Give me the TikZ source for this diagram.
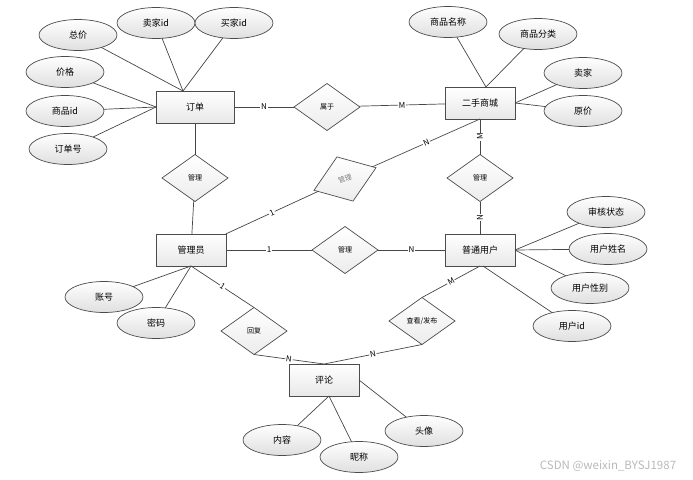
\documentclass[tikz,border=0pt]{standalone}
\usepackage{fontspec}
\setmainfont{Noto Sans CJK SC}
\usepackage{tkz-graph}
\usetikzlibrary{arrows}
\usetikzlibrary{shapes}

\begin{document}
\begin{tikzpicture}[x = 1pt, y = -1pt]
	\useasboundingbox (0,0) rectangle (693,479);
	\tikzstyle{VertexStyle} = []
	\tikzstyle{EdgeStyle} = [draw = gray!55!black, line width = 0.7pt]
	\tikzstyle{LabelStyle} = []
	\tikzstyle{entityStyle} = [shape = rectangle, minimum width = 70pt, minimum height = 32pt, draw = gray!60!black, line width = 0.9pt, top color = white, bottom color = gray!18, font = \fontsize{9}{10}\selectfont]
	\tikzstyle{attrStyle} = [shape = ellipse, minimum width = 78pt, minimum height = 31pt, inner sep = 0pt, draw = gray!60!black, line width = 0.7pt, top color = white, bottom color = gray!25, font = \fontsize{9}{10}\selectfont]
	\tikzstyle{relStyle} = [shape = diamond, minimum width = 66pt, minimum height = 47pt, inner sep = 0pt, draw = gray!60!black, line width = 0.7pt, top color = white, bottom color = gray!15, font = \fontsize{7}{8}\selectfont]
	\tikzstyle{cardStyle} = [fill = white, inner sep = 0.8pt, sloped, font = \fontsize{8}{9}\selectfont]
	% entities
	\Vertex[style = {entityStyle, minimum width = 78pt}, x = 195, y = 107, L = {订单}]{dd}
	\Vertex[style = entityStyle, x = 480, y = 103, L = {二手商城}]{esc}
	\Vertex[style = entityStyle, x = 191, y = 250, L = {管理员}]{gly}
	\Vertex[style = entityStyle, x = 480, y = 250, L = {普通用户}]{pt}
	\Vertex[style = entityStyle, x = 324, y = 380, L = {评论}]{pl}
	% relations
	\Vertex[style = relStyle, x = 327, y = 107, L = {属于}]{sy}
	\Vertex[style = relStyle, x = 195, y = 178, L = {管理}]{glA}
	\Vertex[style = {relStyle, rotate = 20, text = gray}, x = 345, y = 179, L = {管理}]{glB}
	\Vertex[style = relStyle, x = 480, y = 178, L = {管理}]{glC}
	\Vertex[style = relStyle, x = 345, y = 250, L = {管理}]{glD}
	\Vertex[style = relStyle, x = 254, y = 331, L = {回复}]{hf}
	\Vertex[style = relStyle, x = 422, y = 321, L = {查看/发布}]{ck}
	% attributes
	\Vertex[style = attrStyle, x = 78, y = 35, L = {总价}]{zj}
	\Vertex[style = attrStyle, x = 156, y = 23, L = {卖家id}]{mjid}
	\Vertex[style = attrStyle, x = 234, y = 23, L = {买家id}]{bjid}
	\Vertex[style = attrStyle, x = 65, y = 72, L = {价格}]{jg}
	\Vertex[style = attrStyle, x = 65, y = 111, L = {商品id}]{spid}
	\Vertex[style = attrStyle, x = 68, y = 149, L = {订单号}]{ddh}
	\Vertex[style = attrStyle, x = 448, y = 22, L = {商品名称}]{spmc}
	\Vertex[style = attrStyle, x = 538, y = 34, L = {商品分类}]{spfl}
	\Vertex[style = attrStyle, x = 583, y = 73, L = {卖家}]{mj}
	\Vertex[style = attrStyle, x = 583, y = 111, L = {原价}]{yj}
	\Vertex[style = attrStyle, x = 606, y = 212, L = {审核状态}]{shzt}
	\Vertex[style = attrStyle, x = 608, y = 249, L = {用户姓名}]{yhxm}
	\Vertex[style = attrStyle, x = 590, y = 288, L = {用户性别}]{yhxb}
	\Vertex[style = attrStyle, x = 572, y = 326, L = {用户id}]{yhid}
	\Vertex[style = attrStyle, x = 104, y = 297, L = {账号}]{zh}
	\Vertex[style = attrStyle, x = 156, y = 323, L = {密码}]{mm}
	\Vertex[style = attrStyle, x = 282, y = 440, L = {内容}]{nr}
	\Vertex[style = attrStyle, x = 359, y = 457, L = {昵称}]{nc}
	\Vertex[style = attrStyle, x = 424, y = 431, L = {头像}]{tx}
	% attribute links
	\Edge(zj)([xshift = -12pt]dd.north)
	\Edge(mjid)([xshift = -12pt]dd.north)
	\Edge(bjid)([xshift = -12pt]dd.north)
	\Edge(jg)(dd.west)
	\Edge(spid)(dd.west)
	\Edge(ddh)(dd.west)
	\Edge(spmc)([xshift = 6pt]esc.north)
	\Edge(spfl)([xshift = 6pt]esc.north)
	\Edge(mj)(esc.east)
	\Edge(yj)(esc.east)
	\Edge(shzt)(pt.east)
	\Edge(yhxm)(pt.east)
	\Edge(yhxb)(pt.east)
	\Edge(yhid)([xshift = 3pt]pt.south)
	\Edge(zh)(gly.south)
	\Edge(mm)(gly.south)
	\Edge(nr)([xshift = 5pt]pl.south)
	\Edge(nc)([xshift = 5pt]pl.south)
	\Edge(tx)(pl.east)
	% relation links
	\Edge[label = N, labelstyle = {cardStyle}](dd)(sy)
	\Edge[label = M, labelstyle = {cardStyle}](sy)(esc)
	\Edge(dd)(glA)
	\Edge(glA)(gly)
	\Edge[label = 1, labelstyle = {cardStyle}](gly)(glB)
	\Edge[label = N, labelstyle = {cardStyle}](glB)(esc.south)
	\Edge[label = M, labelstyle = {cardStyle}](glC)(esc)
	\Edge[label = N, labelstyle = {cardStyle}](pt)(glC)
	\Edge[label = 1, labelstyle = {cardStyle}](gly)(glD)
	\Edge[label = N, labelstyle = {cardStyle}](glD)(pt)
	\Edge[label = 1, labelstyle = {cardStyle}](gly.south)(hf.north)
	\Edge[label = N, labelstyle = {cardStyle}](hf.south)(pl.north)
	\Edge[label = M, labelstyle = {cardStyle}](pt.south)(ck.north)
	\Edge[label = N, labelstyle = {cardStyle}](ck.south)(pl.north)
	\node[text = gray!55, font = \fontsize{11.5}{13}\selectfont] (wm) at (608,466) {CSDN @weixin\_BYSJ1987};
\end{tikzpicture}
\end{document}
